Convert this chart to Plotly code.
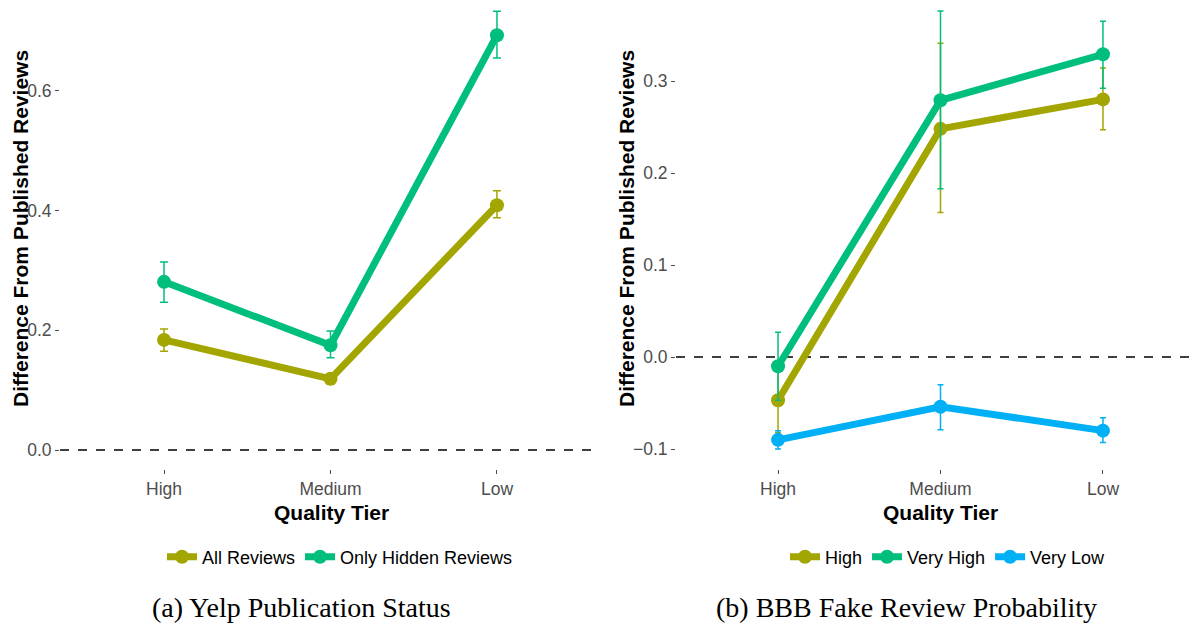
import plotly.graph_objects as go

tiers = ["High", "Medium", "Low"]
tier_pos = [1, 2, 3]

# Panel (a): Yelp publication status
a_all = [0.184, 0.119, 0.409]
a_all_lo = [0.165, 0.110, 0.388]
a_all_hi = [0.202, 0.125, 0.433]
a_hidden = [0.281, 0.175, 0.693]
a_hidden_lo = [0.247, 0.154, 0.655]
a_hidden_hi = [0.314, 0.199, 0.733]

# Panel (b): BBB fake review probability
b_high = [-0.047, 0.248, 0.280]
b_high_lo = [-0.082, 0.157, 0.247]
b_high_hi = [-0.012, 0.341, 0.314]
b_vhigh = [-0.010, 0.279, 0.329]
b_vhigh_lo = [-0.047, 0.183, 0.292]
b_vhigh_hi = [0.027, 0.376, 0.365]
b_vlow = [-0.090, -0.054, -0.080]
b_vlow_lo = [-0.100, -0.079, -0.093]
b_vlow_hi = [-0.080, -0.030, -0.066]

OLIVE = "#A3A500"
GREEN = "#00BF7D"
BLUE = "#00B0F6"

W, H = 1198, 625
fig = go.Figure()


def add_series(name, vals, lo, hi, color, xa, ya, legend, capw):
    fig.add_trace(go.Scatter(
        x=tier_pos, y=vals, name=name, mode="lines+markers",
        line=dict(color=color, width=7),
        marker=dict(color=color, size=14),
        error_y=dict(type="data", symmetric=False,
                     array=[h - v for h, v in zip(hi, vals)],
                     arrayminus=[v - l for v, l in zip(vals, lo)],
                     color=color, thickness=1.5, width=capw),
        xaxis=xa, yaxis=ya, legend=legend,
    ))


add_series("All Reviews", a_all, a_all_lo, a_all_hi, OLIVE, "x", "y", "legend", 4)
add_series("Only Hidden Reviews", a_hidden, a_hidden_lo, a_hidden_hi, GREEN, "x", "y", "legend", 4)
add_series("High", b_high, b_high_lo, b_high_hi, OLIVE, "x2", "y2", "legend2", 3)
add_series("Very High", b_vhigh, b_vhigh_lo, b_vhigh_hi, GREEN, "x2", "y2", "legend2", 3)
add_series("Very Low", b_vlow, b_vlow_lo, b_vlow_hi, BLUE, "x2", "y2", "legend2", 3)

tick_font = dict(family="Liberation Sans, Arial, sans-serif", size=17.5, color="#4D4D4D")
ydom = [1 - 469 / H, 1 - 5 / H]

xcommon = dict(tickmode="array", tickvals=tier_pos, ticktext=tiers,
               showgrid=False, zeroline=False, showline=False,
               ticks="outside", ticklen=4, tickcolor="#4D4D4D", tickwidth=1,
               tickfont=tick_font)
ycommon = dict(showgrid=False, zeroline=False, showline=False,
               ticks="outside", ticklen=4, tickcolor="#4D4D4D", tickwidth=1,
               tickfont=tick_font, domain=ydom)

legend_font = dict(family="Liberation Sans, Arial, sans-serif", size=18, color="black")
fig.update_layout(
    width=W, height=H,
    margin=dict(l=0, r=0, t=0, b=0),
    paper_bgcolor="white", plot_bgcolor="white",
    xaxis=dict(xcommon, domain=[60 / W, 598 / W], range=[0.375, 3.607], anchor="y"),
    yaxis=dict(ycommon, range=[-0.0317, 0.7435], tickvals=[0, 0.2, 0.4, 0.6],
               ticktext=["0.0", "0.2", "0.4", "0.6"], anchor="x"),
    xaxis2=dict(xcommon, domain=[676 / W, 1.0], range=[0.372, 3.585], anchor="y2"),
    yaxis2=dict(ycommon, range=[-0.1217, 0.3826], tickvals=[-0.1, 0, 0.1, 0.2, 0.3],
                ticktext=["\u22120.1", "0.0", "0.1", "0.2", "0.3"], anchor="x2"),
    legend=dict(orientation="h", x=340 / W, xanchor="center", y=1 - 557 / H,
                yanchor="middle", font=legend_font,
                itemwidth=30, bgcolor="rgba(0,0,0,0)"),
    legend2=dict(orientation="h", x=948 / W, xanchor="center", y=1 - 557 / H,
                 yanchor="middle", font=legend_font,
                 itemwidth=30, bgcolor="rgba(0,0,0,0)"),
)

# dashed zero reference lines
for xr, yr in [("x domain", "y"), ("x2 domain", "y2")]:
    fig.add_shape(type="line", xref=xr, yref=yr, x0=0, x1=1, y0=0, y1=0,
                  line=dict(color="black", width=1.5, dash="dash"), layer="below")

title_font = dict(family="Liberation Sans, Arial, sans-serif", size=21, color="black")
cap_font = dict(family="Liberation Serif, DejaVu Serif, serif", size=28, color="black")
annots = [
    dict(text="<b>Difference From Published Reviews</b>", x=20 / W, y=1 - 229 / H,
         textangle=-90, font=title_font),
    dict(text="<b>Difference From Published Reviews</b>", x=626 / W, y=1 - 229 / H,
         textangle=-90, font=title_font),
    dict(text="<b>Quality Tier</b>", x=331 / W, y=1 - 512 / H, font=title_font),
    dict(text="<b>Quality Tier</b>", x=940 / W, y=1 - 512 / H, font=title_font),
    dict(text="(a) Yelp Publication Status", x=301 / W, y=1 - 607 / H, font=cap_font),
    dict(text="(b) BBB Fake Review Probability", x=906 / W, y=1 - 607 / H, font=cap_font),
]
for a in annots:
    fig.add_annotation(xref="paper", yref="paper", showarrow=False,
                       xanchor="center", yanchor="middle", **a)

fig.write_html("out.html", config={"displayModeBar": False},
               post_script="document.body.style.margin='0';document.body.style.padding='0';")
